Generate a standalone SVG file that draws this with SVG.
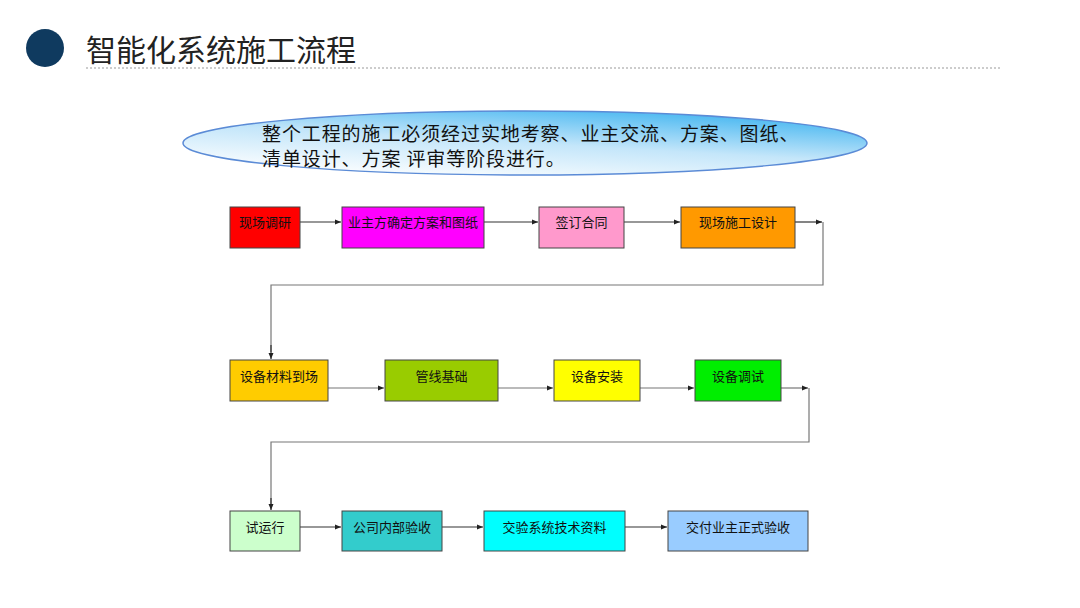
<svg xmlns="http://www.w3.org/2000/svg" width="1080" height="608" viewBox="0 0 1080 608">
<defs>
<style>
.t{font-family:"Noto Sans CJK SC","Noto Sans CJK JP",sans-serif;font-size:13px;fill:#111;text-anchor:middle}
.b{stroke:#444;stroke-width:1}
.c{fill:none;stroke:#333;stroke-width:1.2}
.g{stroke:#777}
</style>
<linearGradient id="eg" x1="0.2" y1="1" x2="0.8" y2="0">
<stop offset="0" stop-color="#ffffff"/>
<stop offset="0.5" stop-color="#c4e6fa"/>
<stop offset="1" stop-color="#3fb4f0"/>
</linearGradient>
<marker id="ah" markerWidth="8" markerHeight="8" refX="7" refY="4" orient="auto" markerUnits="userSpaceOnUse">
<path d="M1,1.5 L7,4 L1,6.5 Z" fill="#222"/>
</marker>
</defs>
<rect width="1080" height="608" fill="#ffffff"/>
<g id="title">
<circle cx="45" cy="48" r="19" fill="#0f3a5f"/>
<text x="86" y="61" font-family="'Noto Sans CJK SC',sans-serif" font-size="30" fill="#222">智能化系统施工流程</text>
<line x1="86" y1="68" x2="1000" y2="68" stroke="#999" stroke-width="1" stroke-dasharray="2,2"/>
</g>
<g id="note">
<ellipse cx="525" cy="143" rx="342" ry="32" fill="url(#eg)" stroke="#5b8bd6" stroke-width="1.5"/>
<text x="262" y="141" font-family="'Noto Sans CJK SC',sans-serif" font-size="19" letter-spacing="0.9" fill="#111">整个工程的施工必须经过实地考察、业主交流、方案、图纸、</text>
<text x="262" y="166" font-family="'Noto Sans CJK SC',sans-serif" font-size="19" letter-spacing="0.9" fill="#111">清单设计、方案 评审等阶段进行。</text>
</g>
<g id="connectors">
<line class="c" x1="300" y1="222" x2="341" y2="222" marker-end="url(#ah)"/>
<line class="c" x1="484" y1="222" x2="538" y2="222" marker-end="url(#ah)"/>
<line class="c" x1="624" y1="222" x2="680" y2="222" marker-end="url(#ah)"/>
<line class="c" x1="795" y1="222" x2="822" y2="222" marker-end="url(#ah)"/>
<polyline class="c g" points="823,222 823,285 271,285 271,352"/>
<line class="c" x1="271" y1="345" x2="271" y2="359" marker-end="url(#ah)"/>
<line class="c g" x1="328" y1="388" x2="384" y2="388" marker-end="url(#ah)"/>
<line class="c g" x1="498" y1="388" x2="553" y2="388" marker-end="url(#ah)"/>
<line class="c g" x1="640" y1="388" x2="694" y2="388" marker-end="url(#ah)"/>
<line class="c g" x1="781" y1="388" x2="808" y2="388" marker-end="url(#ah)"/>
<polyline class="c g" points="809,388 809,442 271,442 271,505"/>
<line class="c" x1="271" y1="498" x2="271" y2="510" marker-end="url(#ah)"/>
<line class="c" x1="300" y1="527" x2="341" y2="527" marker-end="url(#ah)"/>
<line class="c" x1="442" y1="527" x2="483" y2="527" marker-end="url(#ah)"/>
<line class="c" x1="625" y1="527" x2="667" y2="527" marker-end="url(#ah)"/>
</g>
<g id="n1"><rect class="b" x="230" y="207" width="70" height="41" fill="#ff0000"/><text class="t" x="265" y="227">现场调研</text></g>
<g id="n2"><rect class="b" x="342" y="207" width="142" height="41" fill="#ff00ff"/><text class="t" x="413" y="227">业主方确定方案和图纸</text></g>
<g id="n3"><rect class="b" x="539" y="207" width="85" height="41" fill="#ff99cc"/><text class="t" x="581.5" y="227">签订合同</text></g>
<g id="n4"><rect class="b" x="681" y="207" width="114" height="41" fill="#ff9900"/><text class="t" x="738" y="227">现场施工设计</text></g>
<g id="n5"><rect class="b" x="230" y="360" width="98" height="41" fill="#ffcc00"/><text class="t" x="279" y="381">设备材料到场</text></g>
<g id="n6"><rect class="b" x="385" y="360" width="113" height="41" fill="#99cc00"/><text class="t" x="441.5" y="381">管线基础</text></g>
<g id="n7"><rect class="b" x="554" y="360" width="86" height="41" fill="#ffff00"/><text class="t" x="597" y="381">设备安装</text></g>
<g id="n8"><rect class="b" x="695" y="360" width="86" height="41" fill="#00ee00"/><text class="t" x="738" y="381">设备调试</text></g>
<g id="n9"><rect class="b" x="230" y="511" width="70" height="40" fill="#ccffcc"/><text class="t" x="265" y="532">试运行</text></g>
<g id="n10"><rect class="b" x="342" y="511" width="100" height="40" fill="#33cccc"/><text class="t" x="392" y="532">公司内部验收</text></g>
<g id="n11"><rect class="b" x="484" y="511" width="141" height="40" fill="#00ffff"/><text class="t" x="554.5" y="532">交验系统技术资料</text></g>
<g id="n12"><rect class="b" x="668" y="511" width="140" height="40" fill="#99ccff"/><text class="t" x="738" y="532">交付业主正式验收</text></g>
</svg>
